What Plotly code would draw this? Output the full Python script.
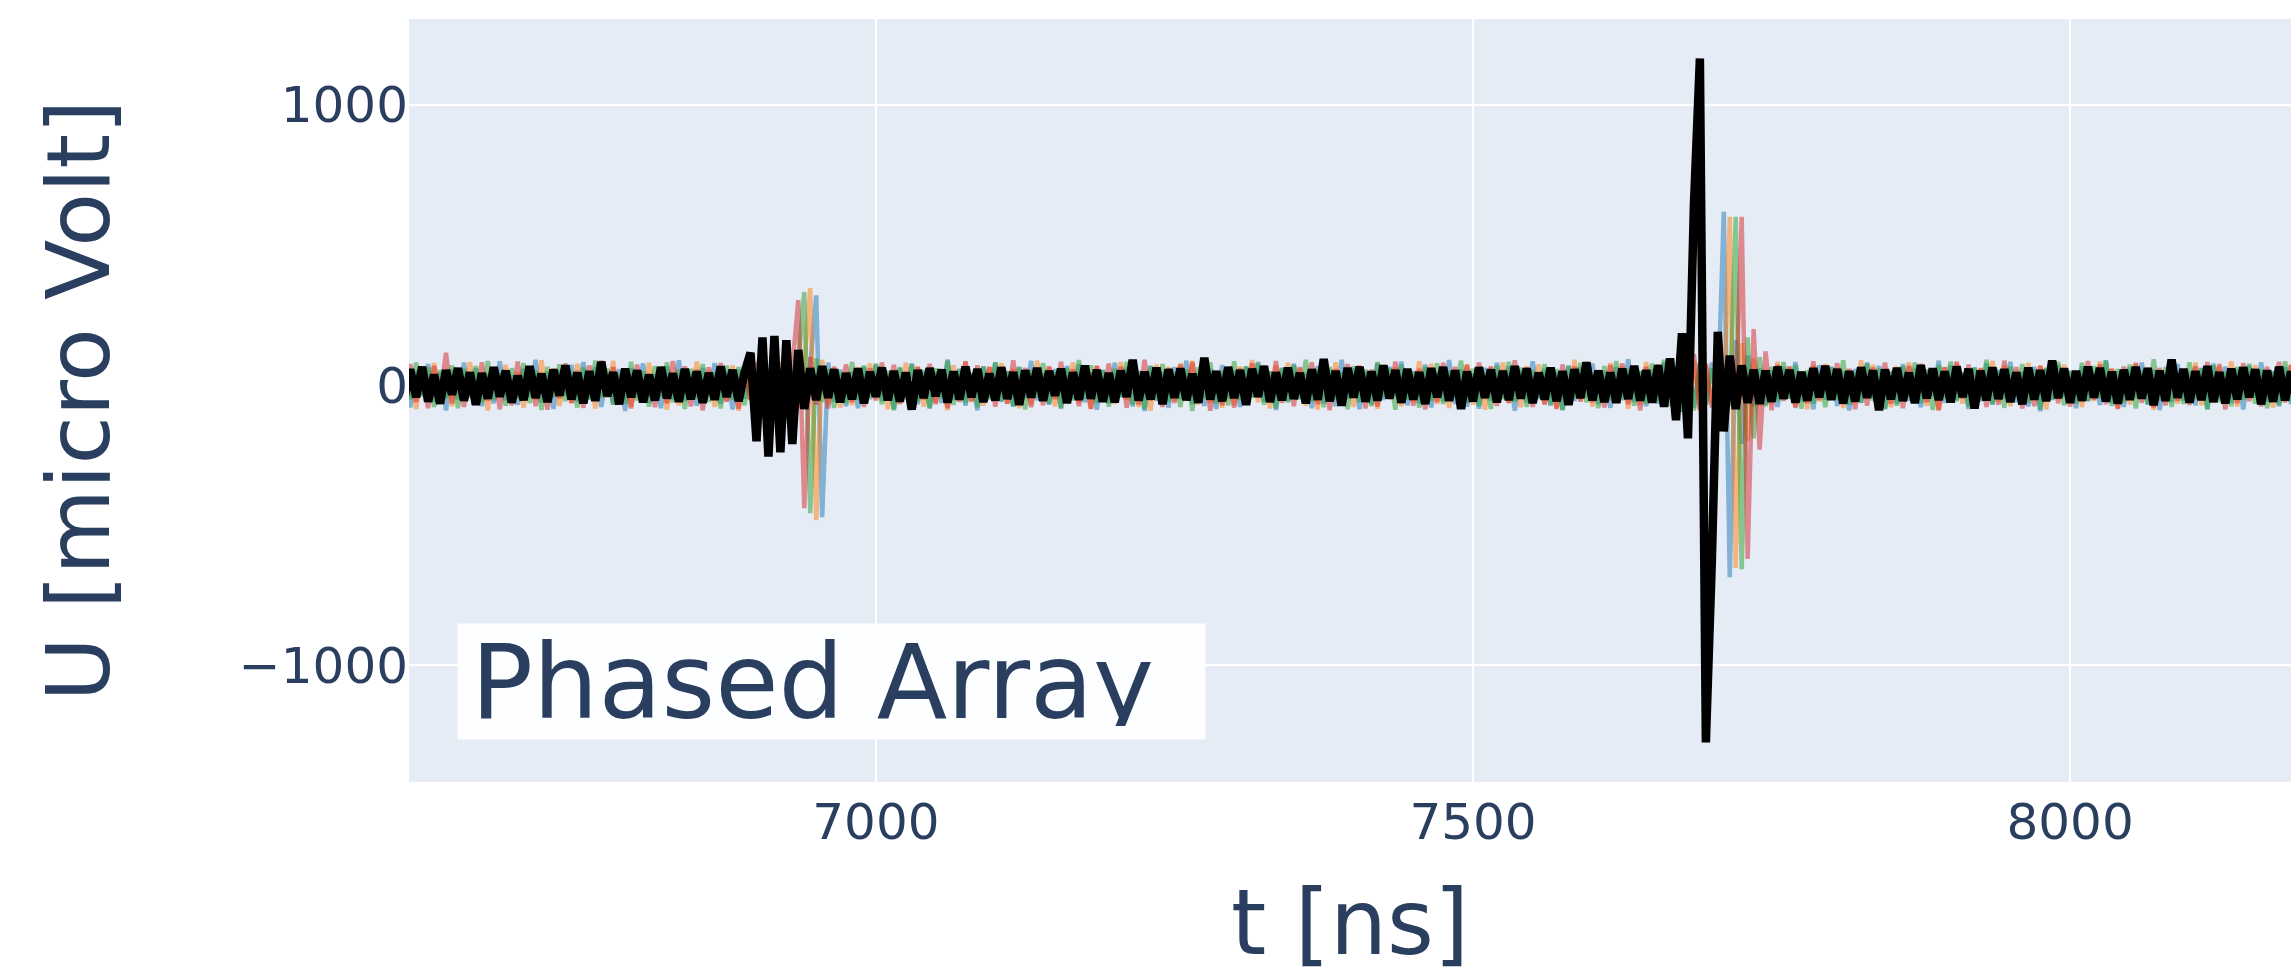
import numpy as np
import plotly.graph_objects as go

# Sampling grid of the recorded waveforms
T0_NS = 6600
STEP_NS = 5

# Individual antenna channels (micro Volt), one sample every 5 ns
ch_blue = [
    -40, 65, -80, 50, -35, 75, -60, 45, -90, 55,
    -50, 80, -45, 60, -75, 40, -65, 85, -55, 35,
    -70, 58, -42, 90, -62, 48, -85, 53, -38, 72,
    -58, 82, -47, 64, -78, 41, -68, 56, -92, 60,
    -45, 77, -63, 39, -82, 67, -51, 88, -56, 44,
    -73, 61, -40, 78, -66, 50, -87, 55, -48, 70,
    -61, 42, -79, 57, -53, 84, -65, 46, -58, 68,
    320, -471, 80, -60, 55, -75, 48, -82, 65, -50,
    72, -56, 44, -86, 60, -41, 77, -68, 53, -80,
    47, -64, 91, -52, 58, -73, 39, -90, 66, -45,
    81, -59, 50, -77, 63, -46, 86, -54, 42, -70,
    57, -83, 68, -49, 75, -61, 45, -88, 54, -65,
    79, -43, 62, -76, 51, -92, 69, -55, 46, -81,
    64, -50, 87, -67, 40, -74, 58, -85, 71, -47,
    53, -78, 66, -44, 83, -60, 49, -89, 62, -57,
    76, -51, 44, -82, 68, -65, 55, -75, 90, -48,
    60, -86, 47, -69, 78, -53, 65, -41, 84, -72,
    50, -64, 73, -80, 45, -58, 89, -67, 56, -77,
    42, -84, 61, -55, 79, -46, 67, -91, 52, -62,
    85, -49, 58, -73, 46, -87, 70, -56, 63, -43,
    77, -68, 51, -81, 64, -54, 92, -60, 48, -75,
    55, -66, 80, -50, 68, -95, 90, -80, 75, -70,
    80, -70, 618, -685, 160, -210, 105, -75, 60, -70,
    53, -78, 66, -47, 82, -59, 44, -86, 71, -52,
    65, -74, 49, -90, 57, -63, 80, -45, 68, -83,
    46, -67, 75, -56, 61, -79, 52, -42, 87, -64,
    70, -51, 43, -85, 63, -58, 78, -69, 55, -48,
    83, -61, 47, -76, 65, -93, 59, -53, 72, -40,
    51, -82, 67, -57, 44, -71, 88, -65, 49, -78,
    62, -46, 80, -68, 54, -89, 42, -60, 75, -55,
    48, -72, 61, -84, 77, -50, 66, -63, 56, -87,
    69, -44, 81, -58, 50, -75, 64, -67, 53,
]

ch_orange = [
    50, -70, 42, -85, 65, -45, 78, -58, 38, -75,
    60, -48, 82, -67, 46, -90, 55, -40, 72, -62,
    44, -80, 67, -53, 88, -49, 59, -74, 41, -65,
    76, -57, 48, -83, 62, -42, 86, -68, 54, -77,
    39, -61, 79, -50, 66, -88, 45, -72, 58, -46,
    84, -64, 51, -78, 43, -56, 70, -91, 63, -52,
    47, -75, 60, -44, 81, -67, 53, -82, 68, 346,
    -482, 90, -65, 58, -80, 46, -72, 64, -55, 77,
    -49, 61, -86, 52, -68, 79, -43, 67, -77, 56,
    -62, 45, -89, 71, -54, 83, -60, 48, -73, 65,
    -41, 78, -66, 57, -82, 44, -70, 87, -51, 63,
    -76, 54, -47, 80, -64, 49, -85, 69, -58, 42,
    -67, 82, -53, 60, -78, 46, -91, 73, -48, 65,
    -56, 77, -44, 86, -69, 51, -63, 40, -80, 58,
    -72, 66, -50, 89, -61, 47, -83, 70, -55, 79,
    -45, 59, -74, 53, -87, 64, -42, 81, -66, 50,
    -78, 68, -57, 44, -84, 72, -49, 63, -75, 55,
    -60, 85, -52, 76, -67, 41, -81, 57, -46, 74,
    -70, 48, -88, 62, -55, 80, -63, 51, -79, 67,
    -43, 73, -65, 56, -82, 45, -68, 90, -53, 61,
    -77, 50, -59, 78, -47, 66, -84, 54, -71, 82,
    -56, 64, -48, 75, -80, 100, -95, 85, -85, 75,
    -65, 70, -85, 600, -652, 150, -200, 95, -75, 55,
    -68, 83, -51, 62, -77, 47, -86, 69, -58, 75,
    -46, 60, -81, 54, -65, 88, -49, 72, -62, 43,
    -79, 66, -55, 81, -44, 58, -73, 50, -90, 64,
    -53, 77, -66, 45, -83, 61, -48, 86, -59, 70,
    -75, 52, -64, 79, -42, 68, -87, 56, -50, 73,
    -61, 47, -78, 65, -56, 84, -45, 59, -82, 51,
    -69, 75, -47, 63, -88, 54, -60, 77, -66, 42,
    -54, 80, -72, 49, -63, 67, -41, 85, -76, 57,
    -48, 71, -65, 53, -80, 62, -57, 74, -51,
]

ch_green = [
    -65, 45, -50, 80, -40, 62, -78, 53, -47, 70,
    -82, 57, -39, 68, -61, 86, -54, 43, -73, 60,
    -46, 78, -64, 51, -89, 65, -42, 74, -57, 48,
    -80, 63, -52, 87, -45, 59, -70, 41, -66, 83,
    -55, 49, -77, 67, -43, 81, -62, 54, -85, 58,
    -48, 75, -60, 46, -83, 69, -51, 64, -72, 44,
    -67, 88, -56, 50, -76, 61, -44, 79, 332, -457,
    95, -60, 56, -81, 47, -65, 82, -53, 69, -42,
    77, -68, 51, -90, 64, -49, 73, -58, 45, -84,
    60, -46, 86, -71, 55, -63, 42, -79, 67, -51,
    80, -57, 48, -74, 65, -87, 53, -44, 78, -66,
    47, -82, 61, -55, 89, -48, 70, -64, 52, -77,
    58, -41, 83, -69, 46, -85, 67, -53, 75, -60,
    44, -78, 56, -92, 63, -47, 81, -65, 50, -72,
    85, -54, 66, -43, 77, -70, 49, -83, 59, -62,
    71, -46, 90, -58, 53, -79, 64, -50, 45, -86,
    68, -61, 55, -75, 82, -44, 60, -88, 73, -52,
    47, -80, 65, -56, 78, -67, 51, -42, 87, -63,
    59, -74, 44, -85, 70, -50, 83, -59, 62, -78,
    53, -45, 75, -68, 57, -90, 66, -47, 79, -61,
    42, -82, 68, -55, 86, -49, 58, -73, 51, -65,
    77, -60, 90, -75, 65, -95, 100, -90, 80, -70,
    60, -85, 65, -75, 600, -657, 170, -190, 100, -75,
    65, -57, 82, -48, 71, -84, 53, -66, 46, -79,
    63, -51, 88, -70, 44, -62, 77, -55, 59, -86,
    50, -73, 67, -42, 80, -64, 56, -89, 72, -47,
    84, -58, 45, -77, 61, -53, 90, -68, 49, -81,
    66, -44, 75, -63, 55, -87, 62, -50, 83, -72,
    48, -65, 79, -56, 68, -46, 86, -74, 57, -60,
    73, -83, 51, -69, 92, -54, 64, -78, 43, -67,
    81, -49, 59, -88, 70, -61, 47, -75, 65, -53,
    76, -66, 54, -82, 46, -71, 85, -57, 62,
]

ch_red = [
    60, -45, 75, -60, 50, -82, 68, -40, 115, -65,
    53, -78, 46, -67, 81, -55, 62, -86, 49, -72,
    84, -50, 65, -75, 43, -88, 58, -47, 77, -63,
    51, -81, 70, -54, 87, -44, 64, -69, 48, -83,
    73, -56, 42, -79, 61, -65, 86, -49, 67, -76,
    55, -90, 63, -46, 78, -59, 50, -84, 69, -53,
    82, -67, 45, -73, 59, -80, 64, 303, -439, 100,
    -70, 56, -83, 66, -48, 74, -61, 52, -78, 60,
    -55, 80, -44, 72, -65, 49, -87, 63, -51, 76,
    -68, 54, -82, 47, -60, 85, -57, 70, -42, 64,
    -77, 51, -66, 88, -53, 61, -79, 45, -72, 67,
    -50, 83, -62, 56, -75, 42, -84, 68, -58, 77,
    -46, 65, -81, 53, -69, 90, -55, 47, -78, 60,
    -64, 73, -48, 82, -57, 66, -91, 51, -71, 44,
    -80, 59, -67, 78, -45, 70, -54, 86, -63, 50,
    -75, 64, -52, 81, -68, 46, -89, 57, -61, 75,
    -43, 69, -83, 55, -76, 62, -50, 84, -66, 48,
    -73, 58, -87, 47, -60, 79, -53, 65, -82, 71,
    -56, 80, -49, 67, -74, 54, -64, 88, -47, 63,
    -78, 45, -70, 60, -85, 73, -51, 66, -59, 82,
    -62, 53, -80, 71, -44, 77, -68, 56, -90, 65,
    -52, 74, -65, 82, -70, 95, -100, 110, -90, 75,
    -80, 65, -100, 80, -75, 600, -620, 200, -230, 120,
    -90, 72, -56, 67, -81, 49, -64, 85, -53, 70,
    -47, 78, -69, 58, -86, 51, -73, 62, -44, 80,
    -66, 55, -82, 68, -50, 76, -61, 46, -89, 63,
    -54, 84, -48, 73, -67, 59, -78, 52, -70, 87,
    -58, 64, -83, 50, -75, 69, -45, 81, -65, 56,
    -77, 48, -60, 86, -52, 74, -68, 57, -85, 66,
    -49, 79, -63, 53, -80, 61, -72, 90, -56, 44,
    -71, 67, -54, 82, -46, 75, -87, 59, -64, 78,
    -57, 49, -76, 65, -51, 83, -62, 70, -68,
]

# Beam-formed (phased array) sum
phased_sum = [
    27, -50, 56, -43, 65, -59, 37, -66, 53, -34,
    60, -55, 45, -70, 42, -48, 63, -41, 51, -62,
    33, -53, 67, -45, 40, -60, 55, -37, 70, -51,
    44, -65, 49, -56, 83, -39, 46, -68, 58, -43,
    52, -61, 36, -54, 64, -47, 41, -59, 57, -50,
    48, -63, 43, -52, 66, -42, 54, -57, 45, 115,
    -200, 170, -255, 175, -240, 160, -210, 125, -85, 60,
    -53, 67, -45, 56, -61, 42, -50, 59, -65, 47,
    -41, 62, -54, 50, -58, 44, -87, 53, -46, 60,
    -39, 55, -62, 48, -51, 65, -43, 57, -60, 41,
    -54, 63, -49, 46, -70, 52, -44, 61, -56, 50,
    -37, 58, -64, 45, -52, 69, -48, 54, -59, 43,
    -61, 51, -42, 90, -55, 47, -50, 62, -68, 56,
    -45, 59, -53, 40, -63, 97, -51, 49, -57, 64,
    -46, 53, -70, 58, -41, 67, -60, 45, -54, 62,
    -49, 43, -65, 56, -52, 93, -57, 50, -73, 61,
    -44, 65, -59, 48, -55, 70, -47, 53, -62, 57,
    -51, 46, -67, 60, -43, 64, -56, 52, -85, 48,
    -58, 63, -45, 55, -61, 50, -53, 67, -48, 59,
    -64, 44, -51, 62, -57, 49, -70, 56, -46, 81,
    -54, 51, -60, 45, -63, 58, -49, 68, -55, 53,
    -62, 70, -77, 95, -125, 185, -190, 640, 1165, -1275,
    -630, 190, -165, 105, -85, 70, -63, 55, -67, 51,
    -59, 65, -48, 54, -62, 46, -55, 60, -43, 68,
    -52, 57, -65, 49, -58, 63, -45, 52, -89, 55,
    -50, 61, -56, 44, -64, 71, -47, 59, -53, 48,
    -61, 66, -42, 58, -83, 51, -54, 63, -49, 56,
    -60, 45, -68, 62, -51, 53, -57, 87, -46, 59,
    -63, 50, -55, 65, -44, 61, -58, 47, -66, 54,
    -52, 64, -48, 60, -71, 51, -56, 91, -45, 57,
    -62, 49, -53, 67, -60, 46, -65, 58, -50, 63,
    -43, 56, -68, 52, -59, 65, -54, 48, -61,
]

channels = [
    ("Ch 1", ch_blue, "#1f77b4"),
    ("Ch 2", ch_orange, "#ff7f0e"),
    ("Ch 3", ch_green, "#2ca02c"),
    ("Ch 4", ch_red, "#d62728"),
]


def time_axis(values):
    return T0_NS + STEP_NS * np.arange(len(values))


FONT = "DejaVu Sans"
INK = "#2a3f5f"

fig = go.Figure()
for name, vals, color in channels:
    fig.add_trace(go.Scatter(
        x=time_axis(vals), y=vals, mode="lines", name=name,
        line=dict(color=color, width=4.5), opacity=0.5,
    ))
fig.add_trace(go.Scatter(
    x=time_axis(phased_sum), y=phased_sum, mode="lines", name="Phased Array",
    line=dict(color="black", width=8.5),
))

fig.add_annotation(
    text="Phased Array", xref="paper", yref="paper",
    x=0.0255, y=0.055, xanchor="left", yanchor="bottom",
    showarrow=False, align="left", valign="middle",
    width=721, height=89, borderpad=13,
    bgcolor="rgba(255,255,255,0.92)",
    font=dict(family=FONT, size=103, color=INK),
)

fig.update_layout(
    template="plotly",
    width=2291, height=977,
    margin=dict(l=409, r=0, t=19, b=195, autoexpand=False),
    showlegend=False,
    paper_bgcolor="white",
    plot_bgcolor="#E5ECF6",
    font=dict(family=FONT, color=INK),
)
fig.update_xaxes(
    range=[6609, 8185], dtick=500, tick0=0,
    gridcolor="white", gridwidth=2, zeroline=False,
    tickfont=dict(size=50, family=FONT, color=INK),
    ticklabelstandoff=6,
    title=dict(text="t [ns]", font=dict(size=90, family=FONT, color=INK), standoff=40),
    automargin=False,
)
fig.update_yaxes(
    range=[-1416, 1306], dtick=1000, tick0=0,
    gridcolor="white", gridwidth=2, zeroline=False,
    tickfont=dict(size=50, family=FONT, color=INK),
    title=dict(text="U [micro Volt]", font=dict(size=88, family=FONT, color=INK), standoff=100),
    automargin=False,
)

fig.write_html("out.html")
